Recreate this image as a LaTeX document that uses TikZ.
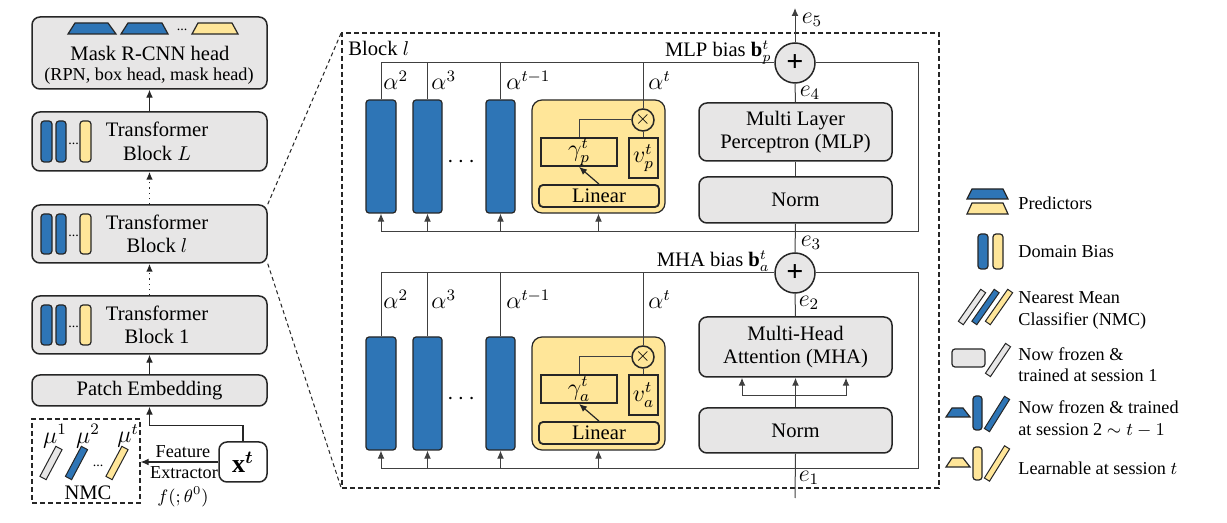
\documentclass[tikz,border=0pt]{standalone}
\usepackage{amsmath}
\usepackage{fontspec}
\setmainfont{Liberation Serif}
\usetikzlibrary{arrows.meta,calc}
\definecolor{bblue}{HTML}{2E75B6}
\definecolor{byel}{HTML}{FFE699}
\definecolor{bgray}{HTML}{E7E6E6}
\definecolor{bdark}{HTML}{262626}
\definecolor{lgray}{HTML}{404040}
\newcommand\fm{\fontsize{10.3}{11.8}\selectfont}
\newcommand\fs{\fontsize{9.1}{10.8}\selectfont}
\newcommand\fd{\fontsize{7}{7}\selectfont}
\newcommand\fmath{\fontsize{11.8}{13}\selectfont}
% rectangle node from corners: name, style, x1, y1, x2, y2, text
\newcommand\rbox[7]{\node[inner sep=0pt, #2, minimum width={((#5)-(#3))*0.5pt}, minimum height={((#6)-(#4))*0.5pt}] (#1) at ({((#3)+(#5))/2},{((#4)+(#6))/2}) {#7};}
% trapezoid: style, xbl, xbr, xtl, xtr, ytop, ybot
\newcommand\trap[7]{\draw[#1] (#2,#7) -- (#3,#7) -- (#5,#6) -- (#4,#6) -- cycle;}
% slanted bar: name, style, cx, cy, length, width, angle
\newcommand\sbar[7]{\node[inner sep=0pt, #2, minimum width={(#5)*0.5pt}, minimum height={(#6)*0.5pt}, rotate=#7] (#1) at (#3,#4) {};}
\tikzset{
  gbox/.style={draw=bdark, line width=0.75pt, fill=bgray, rounded corners=4pt},
  wbox/.style={draw=bdark, line width=0.75pt, fill=white, rounded corners=4pt},
  dbar/.style={draw=bdark, line width=0.6pt, fill=bblue, rounded corners=1.5pt},
  ybar/.style={draw=bdark, line width=0.6pt, fill=byel, rounded corners=1.5pt},
  sbg/.style={draw=bdark, line width=0.5pt, fill=bgray},
  sbb/.style={draw=bdark, line width=0.5pt, fill=bblue},
  sby/.style={draw=bdark, line width=0.5pt, fill=byel},
  tb/.style={draw=bdark, line width=0.6pt, fill=bblue},
  ty/.style={draw=bdark, line width=0.6pt, fill=byel},
  ybox/.style={draw=bdark, line width=0.6pt, fill=byel, rounded corners=5pt},
  ysq/.style={draw=bdark, line width=0.9pt, fill=byel, font=\fmath},
  ylin/.style={draw=bdark, line width=0.9pt, fill=byel, rounded corners=2pt, font=\fm},
  otim/.style={circle, draw=bdark, line width=0.75pt, fill=byel, minimum size=11pt, inner sep=0pt, font=\fm},
  plusn/.style={circle, draw=bdark, line width=0.75pt, fill=bgray, minimum size=20pt, inner sep=0pt, font=\fontsize{15}{15}\selectfont\bfseries},
  mline/.style={draw=lgray, line width=0.5pt},
  arr/.style={-{Latex[length=4pt,width=3.4pt]}, line width=0.6pt, draw=bdark},
  marr/.style={-{Latex[length=4pt,width=3.4pt]}, line width=0.5pt, draw=lgray},
  dbox/.style={draw=bdark, dash pattern=on 2.5pt off 1.5pt, line width=0.6pt},
  zline/.style={draw=bdark, dash pattern=on 2pt off 1.5pt, line width=0.5pt},
  lab/.style={inner sep=0pt, font=\fm},
  mlab/.style={inner sep=0pt, font=\fmath},
}
% transformer block on the left: name, ytop, ybot, title
\newcommand\tblock[4]{%
  \rbox{#1}{gbox}{32}{#2}{267}{#3}{}
  \rbox{#1a}{dbar}{41}{(#2)+9}{52}{(#3)-9}{}
  \rbox{#1b}{dbar}{56}{(#2)+9}{66}{(#3)-9}{}
  \node[inner sep=0pt, font=\fd] (#1d) at (73.5,{((#2)+(#3))/2+2}) {...};
  \rbox{#1c}{ybar}{80}{(#2)+9}{91}{(#3)-9}{}
  \node[font=\fm, align=center] (#1t) at (157,{((#2)+(#3))/2}) {Transformer\\Block #4};
}
% bias module: prefix, top line y, bar top y, bottom line y, subscript, alpha baseline
\newcommand\biasmod[6]{%
  \rbox{#1b1}{dbar}{366}{#3}{396}{(#3)+113}{}
  \rbox{#1b2}{dbar}{413}{#3}{442}{(#3)+113}{}
  \rbox{#1b3}{dbar}{486}{#3}{515}{(#3)+113}{}
  \node[inner sep=0pt, font=\fmath] (#1dots) at (463,{(#3)+62}) {$\cdots$};
  \rbox{#1y}{ybox}{532}{#3}{665}{(#3)+113}{}
  \node[otim] (#1ot) at (643,{(#3)+20}) {$\times$};
  \rbox{#1g}{ysq}{541}{(#3)+38}{617}{(#3)+66}{$\gamma_{#5}^{t}$}
  \rbox{#1v}{ysq}{629}{(#3)+38}{658}{(#3)+78}{$v_{#5}^{t}$}
  \rbox{#1lin}{ylin}{539}{(#3)+85}{659}{(#3)+107}{Linear}
  \node[plusn] (#1plus) at (795,#2) {+};
  \draw[mline] (381,#2) -- (#1plus.west);
  \draw[mline] (#1plus.east) -- (918,#2) -- (918,#4) -- (381,#4);
  \draw[mline] (381,#2) -- (#1b1.north);
  \draw[mline] (427.5,#2) -- (#1b2.north);
  \draw[mline] (500.5,#2) -- (#1b3.north);
  \draw[mline] (643,#2) -- (#1ot.north);
  \draw[mline] (#1g.north) |- (#1ot.west);
  \draw[mline] (#1ot.south) -- (#1ot.south |- #1v.north);
  \draw[arr] (#1lin.north) -- (#1g.south);
  \draw[marr] (381,#4) -- (#1b1.south);
  \draw[marr] (427.5,#4) -- (#1b2.south);
  \draw[marr] (500.5,#4) -- (#1b3.south);
  \draw[marr] (598.5,#4) -- (#1y.south);
  \node[mlab, anchor=base west] (#1a2) at (383,#6) {$\alpha^{2}$};
  \node[mlab, anchor=base west] (#1a3) at (431,#6) {$\alpha^{3}$};
  \node[mlab, anchor=base west] (#1a4) at (506,#6) {$\alpha^{t-1}$};
  \node[mlab, anchor=base west] (#1a5) at (648,#6) {$\alpha^{t}$};
}
\begin{document}
\begin{tikzpicture}[x=0.5pt, y=-0.5pt]
\fill[white] (0,0) rectangle (1227,523);
\useasboundingbox (0,0) rectangle (1227,523);

% ---------- left column ----------
\rbox{mask}{gbox}{32}{17}{267}{89}{}
\trap{tb}{68}{116}{75}{108}{23}{34}
\trap{tb}{121}{168}{128}{162}{23}{34}
\node[inner sep=0pt, font=\fd] (maskd) at (182,30) {...};
\trap{ty}{192}{238}{198}{232}{23}{34}
\node[font=\fm] (masktxt) at (150,53) {Mask R-CNN head};
\node[font=\fs] (masksub) at (149,76) {(RPN, box head, mask head)};

\tblock{blkL}{112}{171}{$L$}
\tblock{blkl}{205}{263}{$l$}
\tblock{blkone}{296}{354}{1}
\rbox{patch}{gbox, font=\fm}{32}{375}{267}{406}{Patch Embedding}

\draw[arr] (blkL.north) -- (mask.south);
\draw[arr, dotted, line width=0.9pt] (blkl.north) -- (blkL.south);
\draw[arr, dotted, line width=0.9pt] (blkone.north) -- (blkl.south);
\draw[arr] (patch.north) -- (blkone.south);

\rbox{xt}{wbox}{219}{442}{267}{482}{\fontsize{13}{13}\selectfont$\mathbf{x}^{\boldsymbol{t}}$}
\rbox{nmc}{dbox}{32}{419}{140}{503}{}
\draw[arr] (xt.north) -- ++(0,-16) -| (patch.south);
\draw[arr] (xt.west) -- (xt.west -| nmc.east);
\node[font=\fs] (fe1) at (183,452) {Feature};
\node[font=\fs] (fe2) at (184,473) {Extractor};
\node[font=\fs] (fe3) at (183,497) {$f(;\theta^{0})$};

\sbar{nmcg}{sbg}{51}{463}{34}{7}{62}
\sbar{nmcb}{sbb}{76.5}{463}{34}{7}{62}
\sbar{nmcy}{sby}{117}{463}{34}{7}{62}
\node[mlab] (mu1) at (55,436) {$\mu^{1}$};
\node[mlab] (mu2) at (88,436) {$\mu^{2}$};
\node[mlab] (mut) at (128,436) {$\mu^{t}$};
\node[inner sep=0pt, font=\fd] (nmcd) at (98,466) {...};
\node[font=\fm] (nmctxt) at (88,493) {NMC};

% ---------- zoomed block ----------
\rbox{big}{dbox}{342}{33}{939}{488}{}
\draw[zline] (blkl.north east) -- (big.north west);
\draw[zline] (blkl.south east) -- (big.south west);
\node[lab, anchor=west] (blklab) at (348,48) {Block $l$};

\biasmod{u}{63}{100}{232}{p}{90}
\biasmod{d}{273}{337}{469}{a}{309}

\rbox{mlp}{gbox, font=\fm, align=center}{699}{103}{892}{161}{Multi Layer\\Perceptron (MLP)}
\rbox{normone}{gbox, font=\fm}{699}{177}{892}{223}{Norm}
\rbox{mha}{gbox, font=\fm, align=center}{699}{317}{892}{377}{Multi-Head\\Attention (MHA)}
\rbox{normtwo}{gbox, font=\fm}{699}{408}{892}{453}{Norm}

\coordinate (efive) at (795,8);
\coordinate (eone) at (795,498);
\coordinate (brl) at (742,396);
\coordinate (brr) at (846,396);
\draw[marr] (uplus.north) -- (efive);
\draw[mline] (uplus.south) -- (mlp.north);
\draw[mline] (mlp.south) -- (normone.north);
\draw[mline] (normone.south) -- (dplus.north);
\draw[mline] (dplus.south) -- (mha.north);
\draw[marr] (normtwo.north) -- (mha.south);
\draw[mline] (brl) -- (brr);
\draw[marr] (brl) -- (mha.south -| brl);
\draw[marr] (brr) -- (mha.south -| brr);
\draw[mline] (normtwo.south) -- (eone);

\node[mlab] (lefive) at (812,20) {$e_{5}$};
\node[mlab] (lefour) at (810,93) {$e_{4}$};
\node[mlab] (lethree) at (811,243) {$e_{3}$};
\node[mlab] (letwo) at (809,303) {$e_{2}$};
\node[mlab] (leone) at (809,478) {$e_{1}$};
\node[lab, anchor=base east] (mlpb) at (772,57) {MLP bias $\mathbf{b}_{p}^{t}$};
\node[lab, anchor=base east] (mhab) at (770,267) {MHA bias $\mathbf{b}_{a}^{t}$};

% ---------- legend ----------
\trap{tb}{967}{1008}{972}{1003}{189}{199}
\trap{ty}{967}{1008}{972}{1003}{203}{214}
\node[inner sep=0pt, font=\fs, anchor=west] (lg1) at (1018,203) {Predictors};
\rbox{lgbb}{dbar}{978}{234}{988}{269}{}
\rbox{lgby}{ybar}{993}{234}{1003}{269}{}
\node[inner sep=0pt, font=\fs, anchor=west] (lg2) at (1018,252) {Domain Bias};
\sbar{lgs1}{sbg}{972}{307}{39}{6}{55}
\sbar{lgs2}{sbb}{985.5}{307}{39}{6}{55}
\sbar{lgs3}{sby}{999}{307}{39}{6}{55}
\node[inner sep=0pt, font=\fs, anchor=west, align=left] (lg3) at (1018,310.5) {Nearest Mean\\Classifier (NMC)};
\rbox{lgr}{gbox, rounded corners=1.5pt, line width=0.6pt}{952}{349}{985}{367}{}
\sbar{lgs4}{sbg}{998}{360}{36}{6}{56}
\node[inner sep=0pt, font=\fs, anchor=west, align=left] (lg4) at (1018,364.5) {Now frozen \&\\trained at session 1};
\trap{tb}{946}{970}{952}{963}{408}{417}
\rbox{lgbb2}{dbar}{973}{396}{982}{430}{}
\sbar{lgs5}{sbb}{997}{414}{38}{6}{58}
\node[inner sep=0pt, font=\fs, anchor=west, align=left] (lg5) at (1018,419) {Now frozen \& trained\\at session 2 $\sim t-1$};
\trap{ty}{946}{970}{952}{963}{458}{467}
\rbox{lgby2}{ybar}{973}{447}{982}{480}{}
\sbar{lgs6}{sby}{997}{463.5}{38}{6}{58}
\node[inner sep=0pt, font=\fs, anchor=west] (lg6) at (1018,468) {Learnable at session $t$};
\end{tikzpicture}
\end{document}
